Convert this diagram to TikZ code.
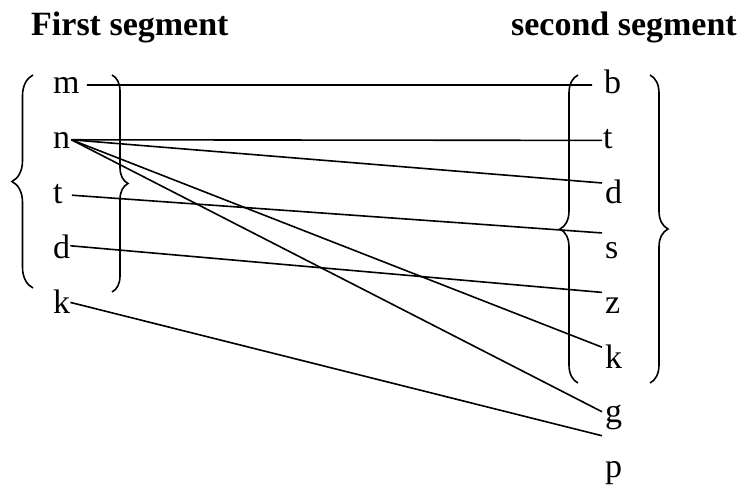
\documentclass[tikz,border=0pt]{standalone}
\usepackage{fontspec}
\setmainfont{Liberation Serif}
\usepackage{tikz}
\usetikzlibrary{decorations.pathreplacing}
\tikzset{
  seg/.style = {font=\fontsize{34}{40}\selectfont\bfseries, inner sep=0pt},
  ph/.style  = {font=\fontsize{34}{40}\selectfont, inner sep=0pt, anchor=base west},
  ln/.style  = {line width=1.6pt},
  br/.style  = {line width=1.6pt, decorate, decoration={brace, amplitude=#1}},
}
\begin{document}
\begin{tikzpicture}[x=1pt, y=-1pt]
  \useasboundingbox (0,0) rectangle (739,486);
  \node[seg, anchor=base west] (first)  at (31,36)  {First segment};
  \node[seg, anchor=base east] (second) at (737,36) {second segment};
  % first segment
  \node[ph] (lm) at (53,94)    {m};
  \node[ph] (ln) at (53,148.8) {n};
  \node[ph] (lt) at (53,203.6) {t};
  \node[ph] (ld) at (53,258.4) {d};
  \node[ph] (lk) at (53,313.2) {k};
  % second segment
  \node[ph] (rb) at (604,94)    {b};
  \node[ph] (rt) at (603,148.8) {t};
  \node[ph] (rd) at (605,203.6) {d};
  \node[ph] (rs) at (605,258.4) {s};
  \node[ph] (rz) at (605,313.2) {z};
  \node[ph] (rk) at (605,368)   {k};
  \node[ph] (rg) at (605,422.8) {g};
  \node[ph] (rp) at (605,477.6) {p};
  % braces
  \draw[br=21] (33,288) -- (33,75);
  \draw[br=16] (112,75) -- (112,292);
  \draw[br=18] (578,383) -- (578,75);
  \draw[br=18] (650,75) -- (650,383);
  % links
  \draw[ln] ([shift={(7,-1)}]lm.east) -- ([shift={(-12,2.6)}]rb.west);
  \draw[ln] ([shift={(1,-1)}]ln.east) -- ([shift={(-1,1)}]rt.west);
  \draw[ln] ([shift={(1,-1)}]ln.east) -- ([shift={(-3,-9)}]rd.west);
  \draw[ln] ([shift={(1,-1)}]ln.east) -- ([shift={(-3,-9)}]rk.west);
  \draw[ln] ([shift={(1,-1)}]ln.east) -- ([shift={(-3,-6)}]rg.west);
  \draw[ln] ([shift={(9,1)}]lt.east) -- ([shift={(-3,-17.6)}]rs.west);
  \draw[ln] ([shift={(0,-1)}]ld.east) -- ([shift={(-3,-13)}]rz.west);
  \draw[ln] ([shift={(0,1)}]lk.east) -- ([shift={(-3,18)}]rg.west);
\end{tikzpicture}
\end{document}
